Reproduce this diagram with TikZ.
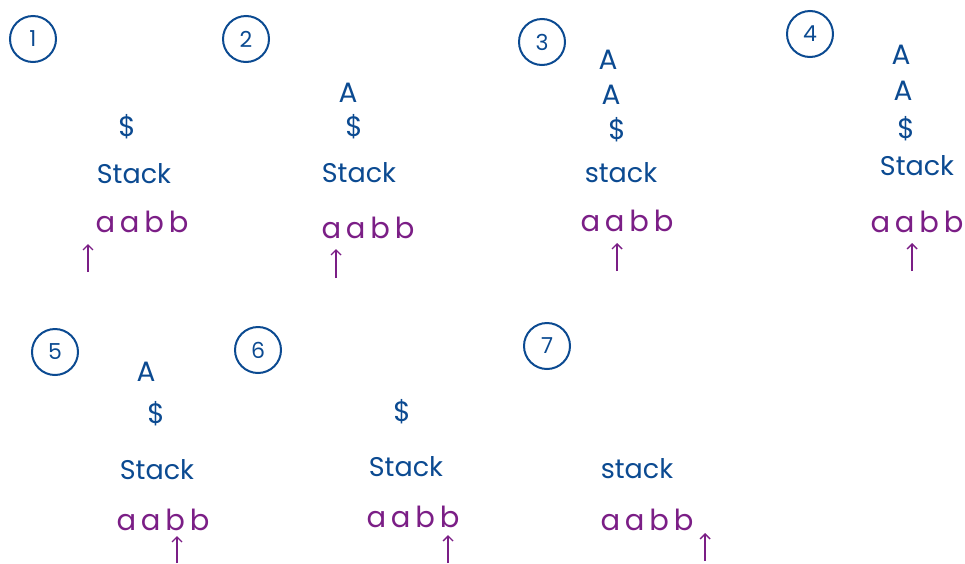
\documentclass[tikz,border=0pt]{standalone}
\usepackage{fontspec}
\setmainfont{Poppins}
\usetikzlibrary{arrows.meta}
\definecolor{inkblue}{HTML}{0B4A91}
\definecolor{inkpurple}{HTML}{7B1E86}
\tikzset{
  x=1pt, y=-1pt,
  num/.style={circle, draw=inkblue, line width=2pt, minimum size=46pt, inner sep=0pt, text=inkblue, font=\fontsize{22}{22}\selectfont},
  sym/.style={text=inkblue, inner sep=0pt, font=\fontsize{28}{28}\selectfont},
  stk/.style={text=inkblue, inner sep=0pt, font=\fontsize{27}{27}\selectfont},
  inp/.style={text=inkpurple, inner sep=0pt, font=\fontsize{29}{29}\selectfont},
  ptr/.style={draw=inkpurple, line width=1.4pt, -{Straight Barb[length=5pt,width=10pt]}}
}
\begin{document}
\begin{tikzpicture}
\useasboundingbox (0,0) rectangle (965,563);
% panel 1
\node[num] (c1) at (33,39) {1};
\node[sym] (d1) at (127,127) {\$};
\node[stk] (s1) at (134,174) {Stack};
\node[inp] (i1) at (142,222) {a\,a\,b\,b};
\coordinate (p1a) at (88,272); \coordinate (p1b) at (88,244);
\draw[ptr] (p1a) -- (p1b);
% panel 2
\node[num] (c2) at (246,39) {2};
\node[sym] (A2) at (348,93) {A};
\node[sym] (d2) at (354,127) {\$};
\node[stk] (s2) at (359,173) {Stack};
\node[inp] (i2) at (368,228) {a\,a\,b\,b};
\coordinate (p2a) at (336,278); \coordinate (p2b) at (336,249);
\draw[ptr] (p2a) -- (p2b);
% panel 3
\node[num] (c3) at (542,42) {3};
\node[sym] (A3a) at (608,60) {A};
\node[sym] (A3b) at (611,95) {A};
\node[sym] (d3) at (617,130) {\$};
\node[stk] (s3) at (621,173) {stack};
\node[inp] (i3) at (627,221) {a\,a\,b\,b};
\coordinate (p3a) at (617,271); \coordinate (p3b) at (617,243);
\draw[ptr] (p3a) -- (p3b);
% panel 4
\node[num] (c4) at (810,34) {4};
\node[sym] (A4a) at (901,55) {A};
\node[sym] (A4b) at (903,91) {A};
\node[sym] (d4) at (906,129) {\$};
\node[stk] (s4) at (917,166) {Stack};
\node[inp] (i4) at (917,222) {a\,a\,b\,b};
\coordinate (p4a) at (912,271); \coordinate (p4b) at (912,243);
\draw[ptr] (p4a) -- (p4b);
% panel 5
\node[num] (c5) at (55,352) {5};
\node[sym] (A5) at (146,372) {A};
\node[sym] (d5) at (156,414) {\$};
\node[stk] (s5) at (157,470) {Stack};
\node[inp] (i5) at (163,520) {a\,a\,b\,b};
\coordinate (p5a) at (177,563); \coordinate (p5b) at (177,536);
\draw[ptr] (p5a) -- (p5b);
% panel 6
\node[num] (c6) at (258,350) {6};
\node[sym] (d6) at (402,412) {\$};
\node[stk] (s6) at (406,467) {Stack};
\node[inp] (i6) at (413,517) {a\,a\,b\,b};
\coordinate (p6a) at (448,563); \coordinate (p6b) at (448,535);
\draw[ptr] (p6a) -- (p6b);
% panel 7
\node[num] (c7) at (547,346) {7};
\node[stk] (s7) at (637,469) {stack};
\node[inp] (i7) at (647,520) {a\,a\,b\,b};
\coordinate (p7a) at (705,561); \coordinate (p7b) at (705,533);
\draw[ptr] (p7a) -- (p7b);
\end{tikzpicture}
\end{document}
